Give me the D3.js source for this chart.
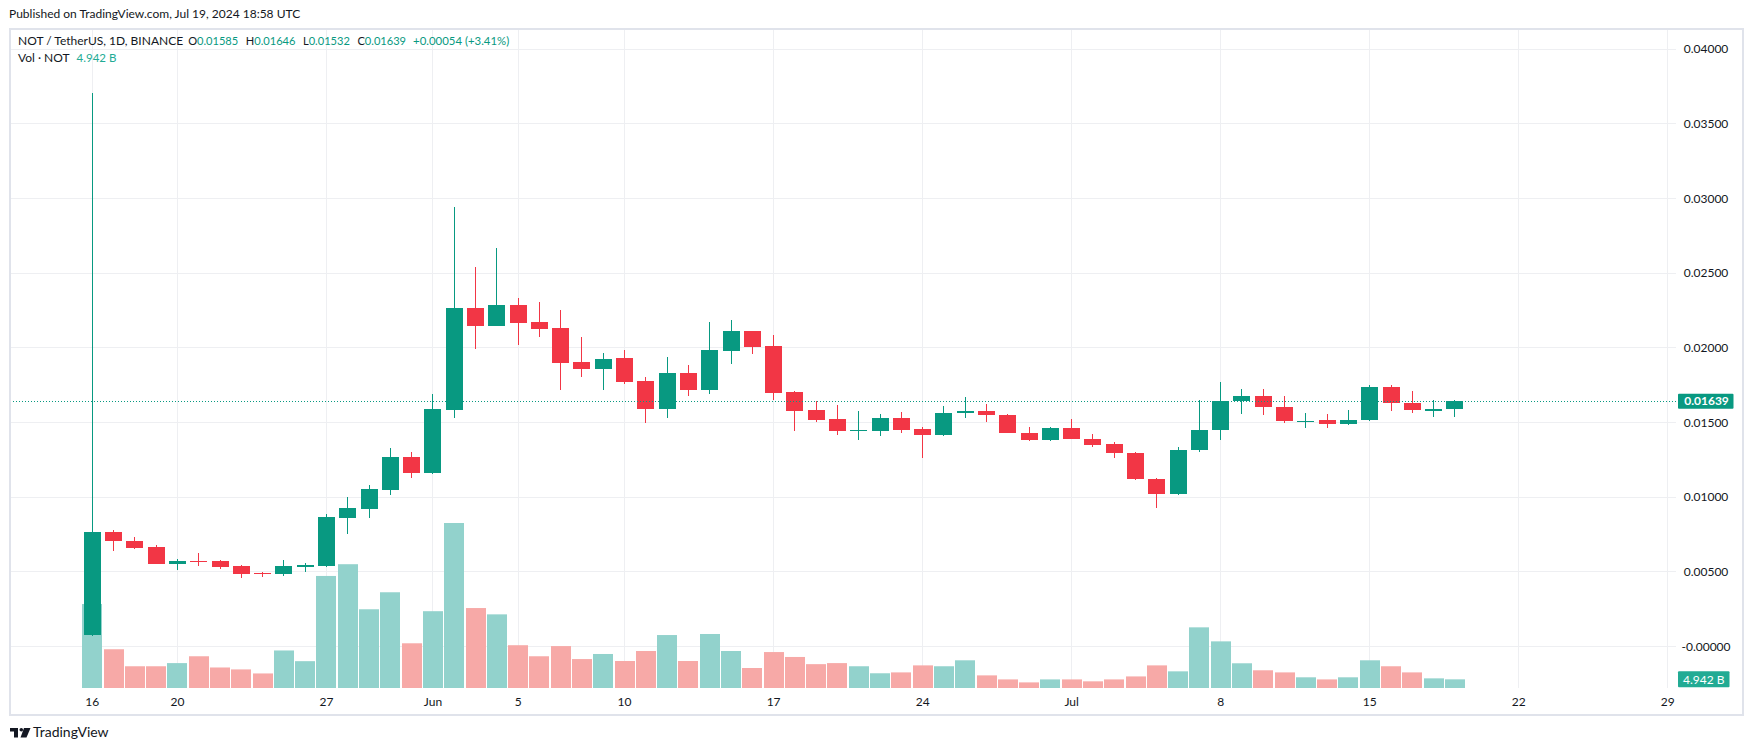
<!DOCTYPE html>
<html><head><meta charset="utf-8">
<script src="https://cdn.jsdelivr.net/npm/d3@7"></script>
<style>
html,body{margin:0;padding:0;background:#fff;}
svg{display:block;font-family:Lato,"Liberation Sans",sans-serif;}
</style></head><body>
<svg id="chart" width="1754" height="751"></svg>
<script>
const dates = ["2024-05-16","2024-05-17","2024-05-18","2024-05-19","2024-05-20","2024-05-21","2024-05-22","2024-05-23","2024-05-24","2024-05-25","2024-05-26","2024-05-27","2024-05-28","2024-05-29","2024-05-30","2024-05-31",
"2024-06-01","2024-06-02","2024-06-03","2024-06-04","2024-06-05","2024-06-06","2024-06-07","2024-06-08","2024-06-09","2024-06-10","2024-06-11","2024-06-12","2024-06-13","2024-06-14","2024-06-15","2024-06-16","2024-06-17","2024-06-18","2024-06-19","2024-06-20","2024-06-21","2024-06-22","2024-06-23","2024-06-24","2024-06-25","2024-06-26","2024-06-27","2024-06-28","2024-06-29","2024-06-30",
"2024-07-01","2024-07-02","2024-07-03","2024-07-04","2024-07-05","2024-07-06","2024-07-07","2024-07-08","2024-07-09","2024-07-10","2024-07-11","2024-07-12","2024-07-13","2024-07-14","2024-07-15","2024-07-16","2024-07-17","2024-07-18","2024-07-19"];
const opens = [0.00075,0.00763,0.00700,0.00662,0.00551,0.00572,0.00570,0.00535,0.00490,0.00485,0.00530,0.00538,0.00859,0.00919,0.01047,0.01267,
0.01161,0.01583,0.02263,0.02146,0.02284,0.02170,0.02129,0.01902,0.01857,0.01929,0.01775,0.01589,0.01828,0.01717,0.01978,0.02109,0.02009,0.01701,0.01580,0.01520,0.01444,0.01442,0.01529,0.01455,0.01415,0.01558,0.01576,0.01549,0.01429,0.01377,
0.01462,0.01388,0.01355,0.01295,0.01120,0.01016,0.01310,0.01444,0.01638,0.01676,0.01603,0.01504,0.01516,0.01484,0.01511,0.01737,0.01630,0.01578,0.01585];
const highs = [0.03704,0.00776,0.00729,0.00676,0.00583,0.00623,0.00575,0.00543,0.00495,0.00575,0.00556,0.00882,0.00996,0.01078,0.01325,0.01298,
0.01688,0.02941,0.02538,0.02666,0.02332,0.02304,0.02250,0.02069,0.01962,0.01982,0.01801,0.01935,0.01882,0.02170,0.02183,0.02110,0.02083,0.01710,0.01641,0.01614,0.01576,0.01556,0.01569,0.01467,0.01609,0.01670,0.01623,0.01556,0.01469,0.01469,
0.01522,0.01422,0.01368,0.01301,0.01127,0.01335,0.01650,0.01770,0.01723,0.01723,0.01676,0.01563,0.01556,0.01583,0.01750,0.01750,0.01710,0.01650,0.01646];
const lows = [0.00070,0.00639,0.00647,0.00551,0.00511,0.00538,0.00517,0.00458,0.00464,0.00472,0.00498,0.00530,0.00753,0.00859,0.01010,0.01126,
0.01155,0.01526,0.01990,0.02146,0.02019,0.02071,0.01717,0.01804,0.01717,0.01757,0.01493,0.01529,0.01676,0.01690,0.01891,0.01958,0.01647,0.01442,0.01502,0.01415,0.01382,0.01408,0.01429,0.01261,0.01408,0.01529,0.01502,0.01424,0.01370,0.01370,
0.01384,0.01335,0.01257,0.01109,0.00922,0.01009,0.01297,0.01377,0.01551,0.01545,0.01491,0.01458,0.01458,0.01478,0.01510,0.01571,0.01558,0.01531,0.01532];
const closes = [0.00763,0.00700,0.00657,0.00551,0.00570,0.00564,0.00530,0.00485,0.00482,0.00535,0.00541,0.00864,0.00925,0.01052,0.01267,0.01161,
0.01587,0.02263,0.02146,0.02284,0.02165,0.02125,0.01897,0.01857,0.01922,0.01770,0.01589,0.01828,0.01717,0.01982,0.02109,0.02004,0.01696,0.01576,0.01516,0.01443,0.01449,0.01529,0.01449,0.01415,0.01563,0.01576,0.01545,0.01424,0.01377,0.01462,
0.01384,0.01348,0.01290,0.01116,0.01016,0.01315,0.01449,0.01643,0.01676,0.01598,0.01504,0.01509,0.01484,0.01516,0.01737,0.01625,0.01578,0.01585,0.01639];
const volumes = [47.9,22.1,12.4,12.4,14.2,18.1,11.7,10.6,8.3,21.4,15.3,63.9,70.6,44.9,54.6,25.5,
43.8,94.1,45.6,42.0,24.4,18.1,23.9,16.5,19.4,15.4,21.1,30.2,15.4,30.8,21.1,11.4,20.5,17.7,13.6,14.2,12.4,8.4,8.9,12.9,12.4,15.8,7.2,4.9,3.2,4.9,
4.9,3.8,4.9,6.6,12.9,9.5,34.6,26.6,14.1,10.1,8.9,6.1,4.9,6.1,15.8,12.4,8.9,5.5,4.942];
const priceTickValues = [0,0.005,0.01,0.015,0.02,0.025,0.03,0.035,0.04];
const priceTickLabels = ["-0.00000","0.00500","0.01000","0.01500","0.02000","0.02500","0.03000","0.03500","0.04000"];
const timeTickDates = ["2024-05-16","2024-05-20","2024-05-27","2024-06-01","2024-06-05","2024-06-10","2024-06-17","2024-06-24","2024-07-01","2024-07-08","2024-07-15","2024-07-22","2024-07-29"];
const timeTickLabels = ["16","20","27","Jun","5","10","17","24","Jul","8","15","22","29"];
const lastPrice = 0.01639, lastPriceLabel = "0.01639";
const lastVolume = 4.942, lastVolumeLabel = "4.942 B";
const headerItems = [["O","0.01585"],["H","0.01646"],["L","0.01532"],["C","0.01639"]];
const headerChange = "+0.00054 (+3.41%)";

const UP = "#089981", DOWN = "#F23645", VUP = "#92D2CC", VDOWN = "#F7A9A7", TXT = "#131722", GRID = "#eeeff2";
const svg = d3.select("#chart");
const parse = d3.utcParse("%Y-%m-%d");
const L = 10, R = 1676, T = 30, B = 688;

const x = d3.scaleUtc().domain([parse("2024-05-16"), parse("2024-07-29")]).range([91.8, 1667.3]);
const yP = d3.scaleLinear().domain([0, 0.04]).range([646, 48.7]);
const yV = d3.scaleLinear().domain([0, d3.max(volumes)]).range([B, 523]);

const data = dates.map((d,i)=>({date:parse(d), o:opens[i], h:highs[i], l:lows[i], c:closes[i], v:volumes[i]}));

svg.append("rect").attr("width",1754).attr("height",751).attr("fill","#fff");

// top caption
svg.append("text").attr("x",9).attr("y",15).attr("dominant-baseline","middle")
  .attr("font-size",12).attr("fill",TXT).text("Published on TradingView.com, Jul 19, 2024 18:58 UTC");

// grid
const grid = svg.append("g");
grid.selectAll("line.h").data(priceTickValues).join("line")
  .attr("x1",L).attr("x2",R).attr("y1",d=>Math.round(yP(d))+0.5).attr("y2",d=>Math.round(yP(d))+0.5)
  .attr("stroke",GRID).attr("stroke-width",1);
grid.selectAll("line.v").data(timeTickDates).join("line")
  .attr("x1",d=>Math.round(x(parse(d)))+0.5).attr("x2",d=>Math.round(x(parse(d)))+0.5)
  .attr("y1",T).attr("y2",B).attr("stroke",GRID).attr("stroke-width",1);

// volume bars
svg.append("g").selectAll("rect").data(data).join("rect")
  .attr("x",d=>Math.round(x(d.date)-9.5)).attr("width",20)
  .attr("y",d=>yV(d.v)).attr("height",d=>yV(0)-yV(d.v))
  .attr("fill",d=>d.c>=d.o?VUP:VDOWN);

// candles
const cg = svg.append("g").attr("shape-rendering","crispEdges");
const cand = cg.selectAll("g").data(data).join("g");
cand.append("rect")
  .attr("x",d=>Math.round(x(d.date))).attr("width",1)
  .attr("y",d=>yP(d.h)).attr("height",d=>yP(d.l)-yP(d.h))
  .attr("fill",d=>d.c>=d.o?UP:DOWN);
cand.append("rect")
  .attr("x",d=>Math.round(x(d.date))-8).attr("width",17)
  .attr("y",d=>yP(Math.max(d.o,d.c)))
  .attr("height",d=>Math.max(1.5, Math.abs(yP(d.o)-yP(d.c))))
  .attr("fill",d=>d.c>=d.o?UP:DOWN);

// last price line
svg.append("line").attr("x1",L).attr("x2",R)
  .attr("y1",Math.round(yP(lastPrice))+0.5).attr("y2",Math.round(yP(lastPrice))+0.5)
  .attr("stroke",UP).attr("stroke-width",1).attr("stroke-dasharray","1 2");

// price axis
const pAxis = svg.append("g").attr("transform","translate(1706,0)")
  .call(d3.axisRight(yP).tickValues(priceTickValues).tickFormat((d,i)=>priceTickLabels[i]).tickSize(0).tickPadding(0));
pAxis.select(".domain").remove();
pAxis.selectAll("text").attr("text-anchor","middle").attr("font-family","Lato, 'Liberation Sans', sans-serif")
  .attr("font-size",12).attr("fill",TXT).attr("dy","0.35em");

// time axis
const tAxis = svg.append("g").attr("transform","translate(0,702)")
  .call(d3.axisBottom(x).tickValues(timeTickDates.map(parse)).tickFormat((d,i)=>timeTickLabels[i]).tickSize(0).tickPadding(0));
tAxis.select(".domain").remove();
tAxis.selectAll("text").attr("y",0).attr("dy","0.35em").attr("font-family","Lato, 'Liberation Sans', sans-serif")
  .attr("font-size",12).attr("fill",TXT);

// last price label
const py = yP(lastPrice);
svg.append("rect").attr("x",1678).attr("y",py-7.5).attr("width",55.5).attr("height",15).attr("fill",UP).attr("rx",1);
svg.append("text").attr("x",1706.5).attr("y",py).attr("dy","0.35em").attr("text-anchor","middle")
  .attr("font-size",12).attr("font-weight","bold").attr("fill","#fff").text(lastPriceLabel);

// last volume label
const vy = yV(lastVolume);
svg.append("rect").attr("x",1678).attr("y",vy-8).attr("width",51.5).attr("height",16).attr("fill","#22AB94").attr("rx",1);
svg.append("text").attr("x",1703.8).attr("y",vy).attr("dy","0.35em").attr("text-anchor","middle")
  .attr("font-size",12).attr("fill","#fff").text(lastVolumeLabel);

// frame
svg.append("rect").attr("x",10).attr("y",29).attr("width",1733).attr("height",686)
  .attr("fill","none").attr("stroke","#e0e3eb").attr("stroke-width",2);

// header
const h1 = svg.append("text").attr("x",18).attr("y",41.5).attr("dominant-baseline","middle").attr("font-size",12).attr("fill",TXT);
h1.append("tspan").text("NOT / TetherUS, 1D, BINANCE");
headerItems.forEach((it,i)=>{
  h1.append("tspan").attr("dx", i===0?5:7.5).attr("font-size",11.1).attr("fill",TXT).text(it[0]);
  h1.append("tspan").attr("font-size",11.1).attr("fill",UP).text(it[1]);
});
h1.append("tspan").attr("dx",7).attr("font-size",11.4).attr("fill",UP).text(headerChange);
const h2 = svg.append("text").attr("x",18).attr("y",58.5).attr("dominant-baseline","middle").attr("font-size",12).attr("fill",TXT);
h2.append("tspan").text("Vol · NOT");
h2.append("tspan").attr("dx",7).attr("font-size",11.5).attr("fill","#22AB94").text(lastVolumeLabel);

// logo
const lg = svg.append("g").attr("fill",TXT);
lg.append("path").attr("d","M10,728 H18 V737.5 H14 V731.5 H10 Z");
lg.append("circle").attr("cx",21.3).attr("cy",729.8).attr("r",1.8);
lg.append("path").attr("d","M24,728 H30.5 L26.5,737.5 H20.5 Z");
svg.append("text").attr("x",33).attr("y",733).attr("dominant-baseline","middle").attr("font-size",14).attr("fill",TXT).text("TradingView");
</script>
</body></html>
